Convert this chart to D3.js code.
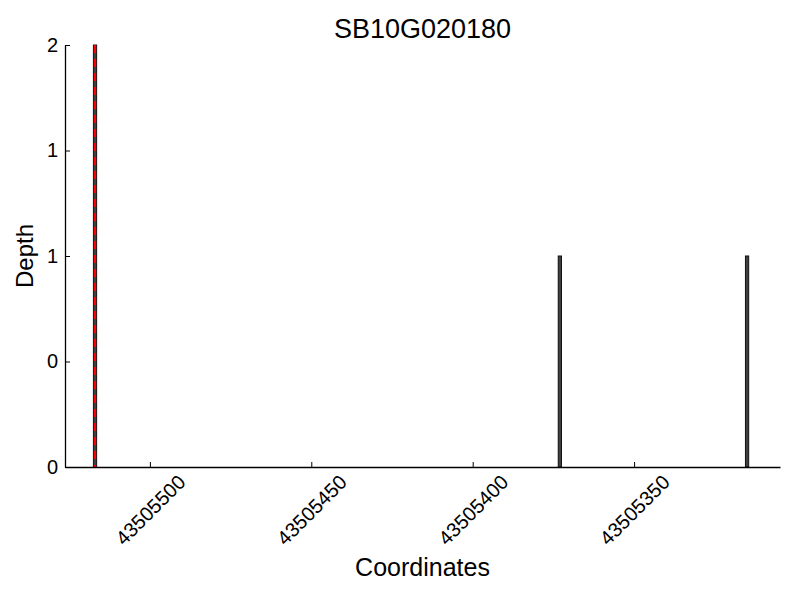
<!DOCTYPE html>
<html>
<head>
<meta charset="utf-8">
<script src="https://cdn.jsdelivr.net/npm/d3@7"></script>
<style>
  body { margin: 0; background: #fff; }
  text { font-family: "Liberation Sans", Arial, sans-serif; }
</style>
</head>
<body>
<script>
// data
var positions = [43505517, 43505373, 43505315];
var depths = [2, 1, 1];
var markerPos = [43505517];
var xTicks = [43505500, 43505450, 43505400, 43505350];
var yTicks = [0, 0.5, 1, 1.5, 2];
var title = "SB10G020180";

var w = 800, h = 600;
var padL = 65, padR = 780, padT = 45, padB = 467;

var svg = d3.select("body").append("svg")
  .attr("width", w)
  .attr("height", h);

var xScale = d3.scaleLinear()
  .domain([43505526.3, 43505304.8])
  .range([padL, padR]);

var yScale = d3.scaleLinear()
  .domain([0, 2])
  .range([padB, padT]);

var barW = Math.abs(xScale(1) - xScale(0));

// bars
svg.selectAll("rect.bar")
  .data(positions)
  .enter()
  .append("rect")
  .attr("class", "bar")
  .attr("x", (d) => xScale(d) - barW / 2)
  .attr("y", (d, i) => yScale(depths[i]))
  .attr("width", barW)
  .attr("height", (d, i) => yScale(0) - yScale(depths[i]))
  .attr("fill", "#404040")
  .attr("stroke", "#111")
  .attr("stroke-width", 1);

// red dashed marker
svg.selectAll("line.marker")
  .data(markerPos)
  .enter()
  .append("line")
  .attr("class", "marker")
  .attr("x1", (d) => xScale(d))
  .attr("x2", (d) => xScale(d))
  .attr("y1", yScale(2))
  .attr("y2", yScale(0))
  .attr("stroke", "#ff0000")
  .attr("stroke-width", 2.2)
  .attr("stroke-dasharray", "8,6");

// x axis
var xAxis = d3.axisBottom(xScale)
  .tickValues(xTicks)
  .tickSizeInner(-5)
  .tickSizeOuter(0)
  .tickFormat(d3.format("d"));

var gx = svg.append("g")
  .attr("transform", "translate(0," + padB + ")")
  .call(xAxis);
gx.select(".domain").attr("stroke-width", 1.3);
gx.selectAll("text")
  .style("font-size", "20px")
  .attr("fill", "#000")
  .attr("text-anchor", "middle")
  .attr("dominant-baseline", "central")
  .attr("y", 0)
  .attr("dy", 0)
  .attr("transform", "translate(0,43) rotate(-45)");

// y axis
var yAxis = d3.axisLeft(yScale)
  .tickValues(yTicks)
  .tickSizeInner(-5)
  .tickSizeOuter(0)
  .tickFormat((d) => Math.floor(d));

var gy = svg.append("g")
  .attr("transform", "translate(" + padL + ",0)")
  .call(yAxis);
gy.select(".domain").attr("stroke-width", 1.3);
gy.selectAll("text")
  .style("font-size", "20px")
  .attr("fill", "#000")
  .attr("x", -7);

// labels
svg.append("text")
  .attr("x", (padL + padR) / 2)
  .attr("y", 38)
  .attr("text-anchor", "middle")
  .style("font-size", "27px")
  .text(title);

svg.append("text")
  .attr("x", (padL + padR) / 2)
  .attr("y", 576)
  .attr("text-anchor", "middle")
  .style("font-size", "25px")
  .text("Coordinates");

svg.append("text")
  .attr("transform", "translate(33," + (padT + padB) / 2 + ") rotate(-90)")
  .attr("text-anchor", "middle")
  .style("font-size", "24px")
  .text("Depth");
</script>
</body>
</html>
